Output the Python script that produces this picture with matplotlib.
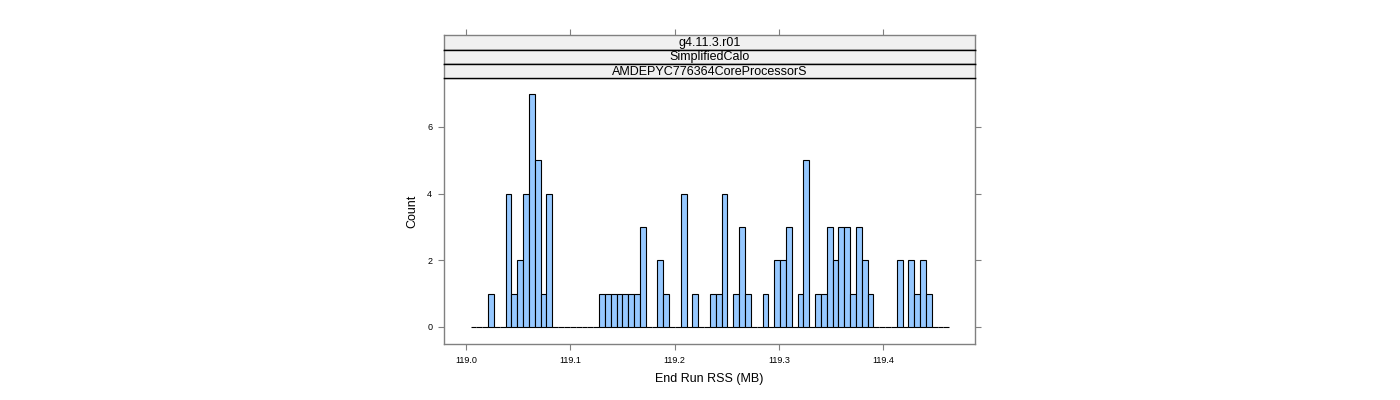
import numpy as np
import matplotlib
matplotlib.use("Agg")
import matplotlib.pyplot as plt

plt.rcParams['font.family'] = ['Liberation Sans', 'DejaVu Sans']

# histogram bins (MB) and counts per bin
bin_lo = 119.0045
bin_hi = 119.4634
counts = [0, 0, 0, 1, 0, 0, 4, 1, 2, 4, 7, 5, 1, 4,
          0, 0, 0, 0, 0, 0, 0, 0,
          1, 1, 1, 1, 1, 1, 1, 3,
          0, 0, 2, 1, 0, 0, 4, 0, 1, 0, 0,
          1, 1, 4, 0, 1, 3, 1, 0, 0, 1, 0, 2, 2, 3, 0, 1, 5, 0,
          1, 1, 3, 2, 3, 3, 1, 3, 2, 1,
          0, 0, 0, 0, 2, 0, 2, 1, 2, 1, 0, 0, 0]
strips = ["g4.11.3.r01", "SimplifiedCalo", "AMDEPYC776364CoreProcessorS"]
xticks = [119.0, 119.1, 119.2, 119.3, 119.4]
yticks = [0, 2, 4, 6]

edges = np.linspace(bin_lo, bin_hi, len(counts) + 1)
width = edges[1] - edges[0]
xlim = (118.979, 119.488)

fig = plt.figure(figsize=(14, 4), dpi=100)
frame_col = "#808080"

ax = fig.add_axes([444 / 1400, 1 - 344 / 400, 531 / 1400, 266 / 400])
ax.bar(edges[:-1], counts, width=width, align="edge",
       color="#96C8FF", edgecolor="black", linewidth=0.8)
ax.set_xlim(*xlim)
ax.set_ylim(-0.51, 7.47)
ax.set_xticks(xticks)
ax.set_xticklabels([f"{t:.1f}" for t in xticks], fontsize=6.5)
ax.set_yticks(yticks)
ax.set_yticklabels([str(t) for t in yticks], fontsize=6.5)
ax.tick_params(direction="out", length=4.5, width=0.8, color=frame_col,
               right=True, pad=4)
for s in ax.spines.values():
    s.set_color(frame_col)
    s.set_linewidth(1.0)
ax.set_xlabel("End Run RSS (MB)", fontsize=9, labelpad=6)
ax.set_ylabel("Count", fontsize=9, labelpad=6)

# strips
tops = [35, 49.5, 64, 78]
for i, label in enumerate(strips):
    y0 = 1 - tops[i + 1] / 400
    h = (tops[i + 1] - tops[i]) / 400
    sax = fig.add_axes([444 / 1400, y0, 531 / 1400, h])
    sax.set_facecolor("#F0F0F0")
    sax.set_xlim(*xlim)
    sax.set_yticks([])
    if i == 0:
        sax.set_xticks(xticks)
        sax.tick_params(axis="x", top=True, bottom=False, labeltop=False,
                        labelbottom=False, direction="out", length=4.5,
                        width=0.8, color=frame_col)
    else:
        sax.set_xticks([])
    for name, s in sax.spines.items():
        s.set_linewidth(1.0)
        s.set_color(frame_col if name in ("left", "right") or i == 0 and name == "top" else "black")
    sax.text(0.5, 0.45, label, transform=sax.transAxes, ha="center",
             va="center", fontsize=9)

fig.savefig("out.png", dpi=100)
